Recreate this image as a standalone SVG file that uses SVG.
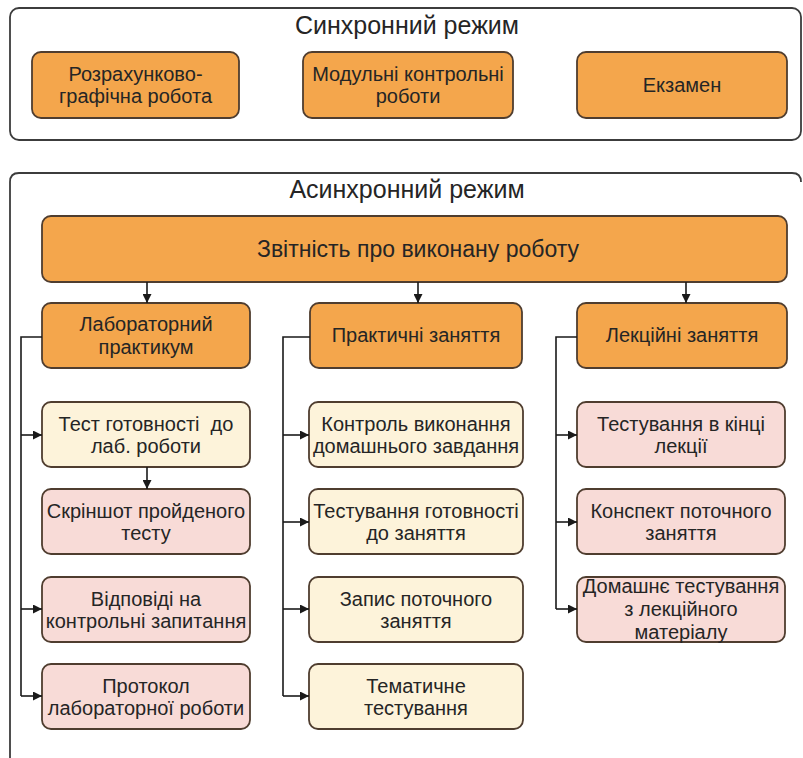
<svg xmlns="http://www.w3.org/2000/svg" width="803" height="758" viewBox="0 0 803 758">
<defs>
<marker id="ah" viewBox="0 0 10 10" refX="10" refY="5" markerWidth="9" markerHeight="9" markerUnits="userSpaceOnUse" orient="auto">
<path d="M0,0 L10,5 L0,10 z" fill="#1a1a1a"/>
</marker>
</defs>
<style>
text{font-family:"Liberation Sans",Arial,sans-serif;fill:#252525;text-anchor:middle}
.t{font-size:20px}
.h{font-size:25px}
.cont{fill:#ffffff;stroke:#3c3c3c;stroke-width:1.8}
.or{fill:#F4A64C;stroke:#4f3d2f;stroke-width:1.8}
.ye{fill:#FDF3DA;stroke:#4f3d2f;stroke-width:1.8}
.pk{fill:#F8DBD7;stroke:#4f3d2f;stroke-width:1.8}
.c{fill:none;stroke:#1a1a1a;stroke-width:1.6}
.a{marker-end:url(#ah)}
</style>
<rect width="803" height="758" fill="#ffffff"/>

<g id="sync">
<rect class="cont" x="10" y="8" width="791" height="132" rx="9"/>
<text class="h" x="407" y="34">Синхронний режим</text>
</g>
<g id="rgr">
<rect class="or" x="32" y="52" width="207" height="66" rx="9"/>
<text class="t" x="135.5" y="81">Розрахунково-</text>
<text class="t" x="135.5" y="103">графічна робота</text>
</g>
<g id="mkr">
<rect class="or" x="303" y="52" width="210" height="66" rx="9"/>
<text class="t" x="408" y="81">Модульні контрольні</text>
<text class="t" x="408" y="103">роботи</text>
</g>
<g id="exam">
<rect class="or" x="577" y="52" width="210" height="66" rx="9"/>
<text class="t" x="682" y="92">Екзамен</text>
</g>

<g id="async">
<path d="M10,770 L10,182 Q10,173 19,173 L792,173 Q801,173 801,182 L801,770" fill="#ffffff"/>
<path d="M10,770 L10,182 Q10,173 19,173 L792,173 Q801,173 801,182" fill="none" stroke="#3c3c3c" stroke-width="1.8"/>
<text class="h" x="407" y="198">Асинхронний режим</text>
</g>
<g id="report">
<rect class="or" x="42" y="216" width="745" height="66" rx="9"/>
<text x="418" y="257" style="font-size:23px">Звітність про виконану роботу</text>
</g>

<g id="lab">
<rect class="or" x="42" y="303" width="208" height="65" rx="9"/>
<text class="t" x="146" y="331">Лабораторний</text>
<text class="t" x="146" y="354">практикум</text>
</g>
<g id="prakt">
<rect class="or" x="310" y="303" width="212" height="65" rx="9"/>
<text class="t" x="416" y="342">Практичні заняття</text>
</g>
<g id="lek">
<rect class="or" x="577" y="303" width="210" height="65" rx="9"/>
<text class="t" x="682" y="342">Лекційні заняття</text>
</g>

<g id="lab1">
<rect class="ye" x="42" y="402" width="208" height="65" rx="9"/>
<text class="t" x="146" y="431" xml:space="preserve">Тест готовності  до</text>
<text class="t" x="146" y="453">лаб. роботи</text>
</g>
<g id="lab2">
<rect class="pk" x="42" y="489" width="208" height="65" rx="9"/>
<text class="t" x="146" y="518">Скріншот пройденого</text>
<text class="t" x="146" y="540">тесту</text>
</g>
<g id="lab3">
<rect class="pk" x="42" y="577" width="208" height="65" rx="9"/>
<text class="t" x="146" y="606">Відповіді на</text>
<text class="t" x="146" y="628">контрольні запитання</text>
</g>
<g id="lab4">
<rect class="pk" x="42" y="664" width="208" height="65" rx="9"/>
<text class="t" x="146" y="693">Протокол</text>
<text class="t" x="146" y="715">лабораторної роботи</text>
</g>

<g id="pr1">
<rect class="ye" x="309" y="402" width="214" height="65" rx="9"/>
<text class="t" x="416" y="431">Контроль виконання</text>
<text class="t" x="416" y="453">домашнього завдання</text>
</g>
<g id="pr2">
<rect class="ye" x="309" y="489" width="214" height="65" rx="9"/>
<text class="t" x="416" y="518">Тестування готовності</text>
<text class="t" x="416" y="540">до заняття</text>
</g>
<g id="pr3">
<rect class="ye" x="309" y="577" width="214" height="65" rx="9"/>
<text class="t" x="416" y="606">Запис поточного</text>
<text class="t" x="416" y="628">заняття</text>
</g>
<g id="pr4">
<rect class="ye" x="309" y="664" width="214" height="65" rx="9"/>
<text class="t" x="416" y="693">Тематичне</text>
<text class="t" x="416" y="715">тестування</text>
</g>

<g id="lk1">
<rect class="pk" x="577" y="402" width="208" height="65" rx="9"/>
<text class="t" x="681" y="431">Тестування в кінці</text>
<text class="t" x="681" y="453">лекції</text>
</g>
<g id="lk2">
<rect class="pk" x="577" y="489" width="208" height="65" rx="9"/>
<text class="t" x="681" y="518">Конспект поточного</text>
<text class="t" x="681" y="540">заняття</text>
</g>
<g id="lk3">
<rect class="pk" x="577" y="577" width="208" height="65" rx="9"/>
<text class="t" x="681" y="593">Домашнє тестування</text>
<text class="t" x="681" y="616">з лекційного</text>
<text class="t" x="681" y="639">матеріалу</text>
</g>

<g id="connectors">
<path class="c a" d="M147,282 V303"/>
<path class="c a" d="M418,282 V303"/>
<path class="c a" d="M686,282 V303"/>
<path class="c a" d="M147,467 V489"/>
<path class="c" d="M42,337 H21 V696"/>
<path class="c a" d="M21,435 H42"/>
<path class="c a" d="M21,609 H42"/>
<path class="c a" d="M21,696 H42"/>
<path class="c" d="M310,337 H283 V696"/>
<path class="c a" d="M283,435 H309"/>
<path class="c a" d="M283,522 H309"/>
<path class="c a" d="M283,609 H309"/>
<path class="c a" d="M283,696 H309"/>
<path class="c" d="M577,337 H556 V609"/>
<path class="c a" d="M556,435 H577"/>
<path class="c a" d="M556,522 H577"/>
<path class="c a" d="M556,609 H577"/>
</g>
</svg>
